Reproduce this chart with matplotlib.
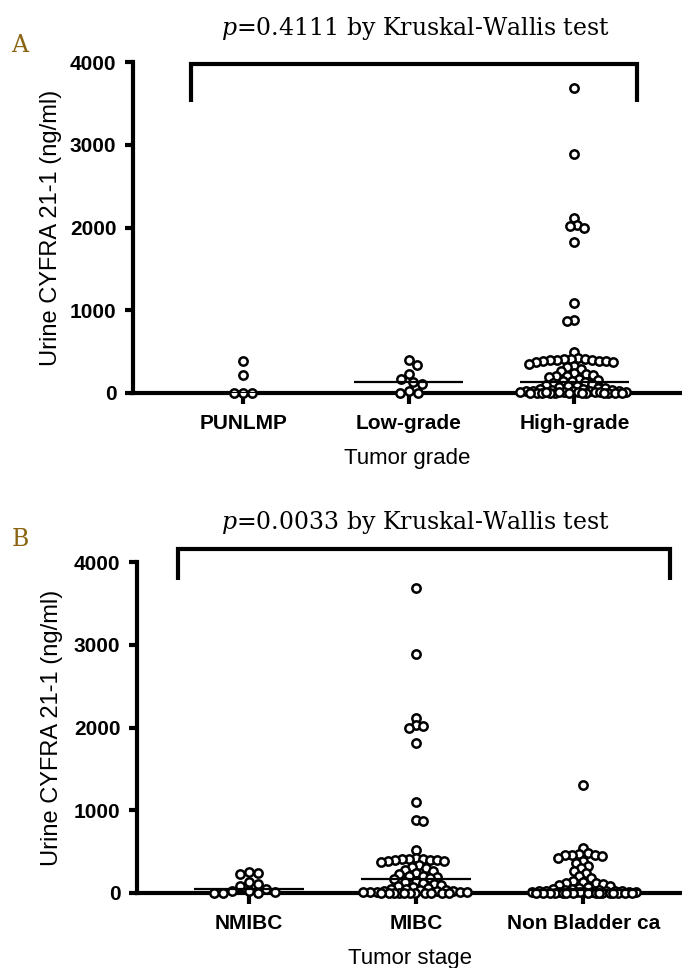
import numpy as np
import matplotlib
matplotlib.use("Agg")
import matplotlib.pyplot as plt

# ---------------- data ----------------
grade_labels = ["PUNLMP", "Low-grade", "High-grade"]
punlmp = [390, 220, 0, 0, 0]
low_grade = [400, 340, 230, 170, 130, 110, 25, 0, 0]
high_grade = [3680, 2890, 2110, 2030, 2015, 2000, 1820, 1090, 880, 865, 495,
              420, 415, 410, 405, 400, 400, 395, 390, 390, 385, 380, 370,
              350, 330, 310, 290,
              260, 240, 230, 220, 210, 200, 190, 175,
              160, 150, 140, 130, 120, 105, 95, 90, 80,
              70, 60, 55, 50, 45, 40, 35, 30, 28, 25, 22, 20, 18, 15, 12, 10,
              8, 6, 5, 4, 3, 2, 1, 0, 0, 0, 14, 9, 7, 3, 1, 0]

stage_labels = ["NMIBC", "MIBC", "Non Bladder ca"]
nmibc = [250, 240, 230, 130, 110, 85, 50, 30, 20, 10, 5, 0, 0]
mibc = [3680, 2890, 2120, 2030, 2015, 2000, 1815, 1100, 880, 870, 520,
        420, 415, 410, 405, 400, 400, 395, 390, 385, 380,
        340, 320, 300, 280,
        260, 240, 225, 210, 200, 190, 180,
        165, 150, 130, 120, 110, 100,
        90, 70, 60, 50, 45, 40, 35, 30, 25, 20, 18, 15, 12, 10, 8, 6, 5, 4,
        3, 2, 1, 0, 0, 0, 0, 0]
non_bladder = [1310, 540, 480, 470, 465, 460, 455, 450, 420, 390, 360, 330,
               300, 270, 240, 200, 180, 150, 130, 120, 120, 110, 100,
               90, 70, 60, 50, 45, 40, 35, 30,
               28, 25, 22, 20, 18, 16, 15, 14, 12, 10, 9, 8, 7, 6, 5, 4, 3,
               3, 2, 2, 1, 1, 0, 0, 0, 0, 0, 0, 0]

yticks = [0, 1000, 2000, 3000, 4000]
titles = ["=0.4111 by Kruskal-Wallis test", "=0.0033 by Kruskal-Wallis test"]
panel_letters = ["A", "B"]
xlabels = ["Tumor grade", "Tumor stage"]
ylabel = "Urine CYFRA 21-1 (ng/ml)"

# ---------------- style ----------------
plt.rcParams['font.family'] = ['Liberation Sans', 'DejaVu Sans']
plt.rcParams['mathtext.fontset'] = 'custom'
plt.rcParams['mathtext.it'] = 'DejaVu Serif:italic'
plt.rcParams['mathtext.rm'] = 'DejaVu Serif'

W, H = 682, 968
fig = plt.figure(figsize=(W / 100, H / 100), dpi=100)


def px_axes(left, right, top, bottom):
    return fig.add_axes([left / W, 1 - bottom / H, (right - left) / W, (bottom - top) / H])


def swarm(ax, xc, values, d=7.0, maxw=54):
    vals = np.asarray(values, dtype=float)
    pts = ax.transData.transform(np.column_stack([np.full(len(vals), xc), vals]))
    order = np.argsort(-vals, kind="stable")
    placed = []
    out = np.zeros(len(vals))
    flip = 1
    for i in order:
        x0, y0 = pts[i]
        best = None
        bestd = -1
        bestc = x0
        cands = [0]
        for k in range(1, maxw + 1):
            cands += [flip * k, -flip * k]
        for c in cands:
            cx = x0 + c
            mind = 1e9
            for (px, py) in placed:
                dd = np.hypot(px - cx, py - y0)
                if dd < mind:
                    mind = dd
            if mind >= d:
                best = cx
                break
            if mind > bestd + 0.5:
                bestd = mind
                bestc = cx
        if best is None:
            best = bestc
        if best != x0:
            flip = -flip
        placed.append((best, y0))
        out[i] = best
    inv = ax.transData.inverted()
    return inv.transform(np.column_stack([out, pts[:, 1]]))[:, 0]


def panel(ax, groups, labels, xlim, bracket, xlabel, ylpos):
    ax.set_xlim(*xlim)
    ax.set_ylim(0, 4000)
    for s in ["top", "right"]:
        ax.spines[s].set_visible(False)
    for s in ["left", "bottom"]:
        ax.spines[s].set_linewidth(3)
        ax.spines[s].set_capstyle("projecting")
    ax.set_yticks(yticks)
    ax.set_yticklabels([str(t) for t in yticks], fontsize=15, fontweight="bold")
    ax.set_xticks(range(len(labels)))
    ax.set_xticklabels(labels, fontsize=15, fontweight="bold")
    ax.tick_params(axis="y", length=6, width=3, pad=6)
    ax.tick_params(axis="x", length=8, width=3, pad=7)
    ax.set_xlabel(xlabel, fontsize=16, labelpad=11)
    ax.set_ylabel(ylabel, fontsize=17)
    ax.yaxis.set_label_coords(ylpos, 0.5)
    for i, vals in enumerate(groups):
        dd = 9.0 if len(vals) < 20 else 7.0
        xs = swarm(ax, i, vals, d=dd)
        ax.scatter(xs, vals, s=36, facecolors="white", edgecolors="black",
                   linewidths=1.8, zorder=5, clip_on=False)
        med = np.median(vals)
        ax.plot([i - 0.33, i + 0.33], [med, med], color="black", lw=1.6,
                zorder=6, solid_capstyle="butt")
    x0, x1, ytop, yleg = bracket
    ax.plot([x0, x0, x1, x1], [yleg, ytop, ytop, yleg], color="black", lw=3,
            clip_on=False, solid_joinstyle="miter", solid_capstyle="butt")


axA = px_axes(133, 682, 62, 393)
panel(axA, [punlmp, low_grade, high_grade], grade_labels,
      (-0.665, 2.65), (-0.314, 2.38, 3975, 3520), xlabels[0], -0.13)

axB = px_axes(137, 682, 562, 893)
panel(axB, [nmibc, mibc, non_bladder], stage_labels,
      (-0.67, 2.59), (-0.425, 2.52, 4160, 3780), xlabels[1], -0.135)

gold = "#8a6410"
for (ty, ly), t, L in zip([(28, 45), (522, 539)], titles, panel_letters):
    fig.text(415 / W, 1 - ty / H, r"$\mathit{p}$" + t, fontsize=17,
             family="DejaVu Serif", ha="center", va="center")
    fig.text(20 / W, 1 - ly / H, L, fontsize=17, family="DejaVu Serif",
             color=gold, ha="center", va="center")

fig.savefig("out.png", dpi=100)
